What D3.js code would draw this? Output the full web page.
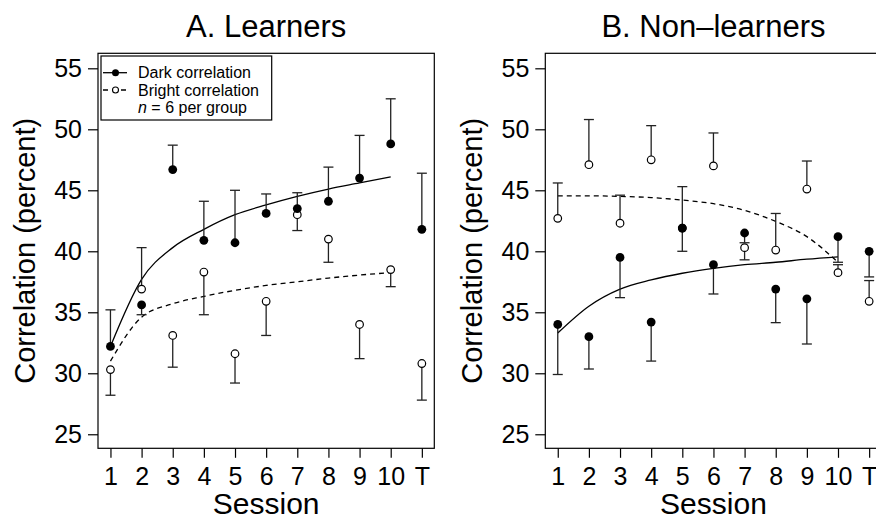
<!DOCTYPE html>
<html>
<head>
<meta charset="utf-8">
<script src="https://cdn.jsdelivr.net/npm/d3@7"></script>
<style>
  body { margin: 0; background: #fff; }
  svg text { font-family: "Liberation Sans", Arial, Helvetica, sans-serif; fill: #000; }
</style>
</head>
<body>
<script>
// sessions on the x axis (1..10 plus transfer T)
var sessions = ["1", "2", "3", "4", "5", "6", "7", "8", "9", "10", "T"];
var yTicks = [25, 30, 35, 40, 45, 50, 55];
var titles = ["A. Learners", "B. Non\u2013learners"];

// A. learners: means and the end of each one-sided error bar
var learnDark     = [32.2, 35.6, 46.7, 40.9, 40.7, 43.1, 43.5, 44.1, 46.0, 48.8, 41.8];
var learnDarkEnd  = [35.2, 34.8, 48.7, 44.1, 45.0, 44.7, 44.8, 46.9, 49.5, 52.5, 46.4];
var learnBright   = [30.3, 36.9, 33.1, 38.3, 31.6, 35.9, 43.0, 41.0, 34.0, 38.5, 30.8];
var learnBrightEnd= [28.2, 40.3, 30.5, 34.8, 29.2, 33.1, 41.7, 39.1, 31.2, 37.1, 27.8];
// fitted curves, sessions 1..10
var learnDarkFit  = [32.2, 37.7, 40.3, 41.8, 43.0, 43.8, 44.5, 45.1, 45.6, 46.1];
var learnBrightFit= [31.0, 34.6, 35.7, 36.3, 36.8, 37.2, 37.5, 37.8, 38.05, 38.25];

// B. non-learners
var nonDark       = [34.0, 33.0, 39.5, 34.2, 41.9, 38.9, 41.5, 36.9, 36.1, 41.2, 40.0];
var nonDarkEnd    = [29.9, 30.35, 36.2, 31.0, 40.0, 36.5, 40.7, 34.15, 32.4, 39.1, 37.9];
var nonBright     = [42.7, 47.1, 42.3, 47.5, 41.9, 47.0, 40.3, 40.1, 45.1, 38.25, 35.9];
var nonBrightEnd  = [45.6, 50.8, 44.6, 50.3, 45.3, 49.7, 39.3, 43.1, 47.4, 38.9, 37.6];
var nonDarkFit    = [33.3, 35.5, 36.9, 37.65, 38.2, 38.6, 38.9, 39.1, 39.35, 39.55];
var nonBrightFit  = [44.55, 44.55, 44.5, 44.4, 44.2, 43.9, 43.35, 42.45, 41.2, 39.1];

var W = 876, H = 523;
var svg = d3.select("body").append("svg")
    .attr("width", W).attr("height", H);

var frame = { left: 98, right: 434.3, top: 53.3, bottom: 448.3 };
var panelShift = 447.3;

var yScale = d3.scaleLinear().domain([23.85, 56.23]).range([frame.bottom, frame.top]);

function drawPanel(i, dark, darkEnd, bright, brightEnd, darkFit, brightFit, legend) {
  var g = svg.append("g").attr("transform", "translate(" + (i * panelShift) + ",0)");
  var xScale = d3.scaleLinear().domain([0.6, 11.4]).range([frame.left, frame.right]);

  // title
  g.append("text")
   .attr("x", (frame.left + frame.right) / 2).attr("y", 37)
   .attr("text-anchor", "middle").style("font-size", "31px")
   .text(titles[i]);

  // box
  g.append("rect")
   .attr("x", frame.left).attr("y", frame.top)
   .attr("width", frame.right - frame.left).attr("height", frame.bottom - frame.top)
   .attr("fill", "none").attr("stroke", "#000").attr("stroke-width", 1.2);

  // axes
  var xAxis = d3.axisBottom(xScale)
      .tickValues(d3.range(1, 12))
      .tickFormat(function(d){ return sessions[d - 1]; })
      .tickSize(9.5).tickPadding(9);
  var xg = g.append("g").attr("transform", "translate(0," + frame.bottom + ")").call(xAxis);
  xg.select(".domain").remove();
  xg.selectAll("line").attr("stroke", "#000").attr("stroke-width", 1.2);
  xg.selectAll("text").style("font-size", "25px").attr("font-family", null);

  var yAxis = d3.axisLeft(yScale).tickValues(yTicks).tickSize(10).tickPadding(6);
  var yg = g.append("g").attr("transform", "translate(" + frame.left + ",0)").call(yAxis);
  yg.select(".domain").remove();
  yg.selectAll("line").attr("stroke", "#000").attr("stroke-width", 1.2);
  yg.selectAll("text").style("font-size", "25px").attr("font-family", null);

  g.append("text")
   .attr("transform", "translate(" + 35 + "," + ((frame.top + frame.bottom) / 2) + ") rotate(-90)")
   .attr("text-anchor", "middle").style("font-size", "29px")
   .text("Correlation (percent)");

  g.append("text")
   .attr("x", (frame.left + frame.right) / 2).attr("y", 514)
   .attr("text-anchor", "middle").style("font-size", "30px")
   .text("Session");

  // fitted curves
  var line = d3.line()
      .x(function(d, k){ return xScale(k + 1); })
      .y(function(d){ return yScale(d); })
      .curve(d3.curveMonotoneX);
  g.append("path").attr("d", line(brightFit))
   .attr("fill", "none").attr("stroke", "#000").attr("stroke-width", 1.3)
   .attr("stroke-dasharray", "5,4");
  g.append("path").attr("d", line(darkFit))
   .attr("fill", "none").attr("stroke", "#000").attr("stroke-width", 1.3);

  // error bars
  function bars(vals, ends) {
    var eb = g.append("g").attr("stroke", "#222").attr("stroke-width", 1.3);
    vals.forEach(function(v, k){
      var x = xScale(k + 1);
      eb.append("line").attr("x1", x).attr("x2", x)
        .attr("y1", yScale(v)).attr("y2", yScale(ends[k]));
      eb.append("line").attr("x1", x - 5).attr("x2", x + 5)
        .attr("y1", yScale(ends[k])).attr("y2", yScale(ends[k]));
    });
  }
  bars(bright, brightEnd);
  bars(dark, darkEnd);

  g.selectAll("circle.bright").data(bright).enter().append("circle")
   .attr("class", "bright")
   .attr("cx", function(d, k){ return xScale(k + 1); })
   .attr("cy", function(d){ return yScale(d); })
   .attr("r", 3.8).attr("fill", "#fff").attr("stroke", "#000").attr("stroke-width", 1.2);
  g.selectAll("circle.dark").data(dark).enter().append("circle")
   .attr("class", "dark")
   .attr("cx", function(d, k){ return xScale(k + 1); })
   .attr("cy", function(d){ return yScale(d); })
   .attr("r", 4.4).attr("fill", "#000");

  if (legend) {
    var lg = g.append("g");
    lg.append("rect").attr("x", 101).attr("y", 56).attr("width", 170.7).attr("height", 64)
      .attr("fill", "#fff").attr("stroke", "#000").attr("stroke-width", 1.2);
    // dark entry
    lg.append("line").attr("x1", 103).attr("x2", 127).attr("y1", 72.7).attr("y2", 72.7)
      .attr("stroke", "#000").attr("stroke-width", 1.3);
    lg.append("circle").attr("cx", 115.5).attr("cy", 72.7).attr("r", 3.5).attr("fill", "#000");
    // bright entry
    lg.append("line").attr("x1", 103).attr("x2", 127).attr("y1", 90).attr("y2", 90)
      .attr("stroke", "#000").attr("stroke-width", 1.3).attr("stroke-dasharray", "5,4");
    lg.append("circle").attr("cx", 115.5).attr("cy", 90).attr("r", 3).attr("fill", "#fff")
      .attr("stroke", "#000").attr("stroke-width", 1.1);
    var rows = [["Dark correlation"], ["Bright correlation"]];
    rows.forEach(function(r, k){
      lg.append("text").attr("x", 138).attr("y", 78 + k * 17.5)
        .style("font-size", "16px").text(r[0]);
    });
    var t = lg.append("text").attr("x", 138).attr("y", 113).style("font-size", "16px");
    t.append("tspan").style("font-style", "italic").text("n");
    t.append("tspan").text(" = 6 per group");
  }
}

drawPanel(0, learnDark, learnDarkEnd, learnBright, learnBrightEnd, learnDarkFit, learnBrightFit, true);
drawPanel(1, nonDark, nonDarkEnd, nonBright, nonBrightEnd, nonDarkFit, nonBrightFit, false);
</script>
</body>
</html>
